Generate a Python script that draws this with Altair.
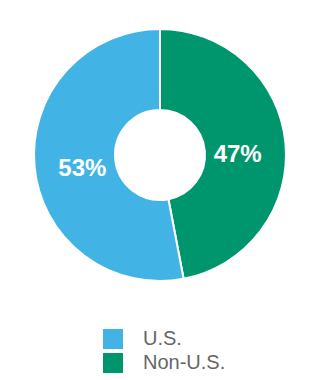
import altair as alt
import pandas as pd

categories = ["Non-U.S.", "U.S."]
values = [47, 53]
labels = ["47%", "53%"]
order = [0, 1]

df = pd.DataFrame({"cat": categories, "val": values, "lab": labels, "ord": order})

color = alt.Color(
    "cat:N",
    scale=alt.Scale(domain=["U.S.", "Non-U.S."], range=["#41b4e5", "#00966d"]),
    legend=alt.Legend(
        title=None, orient="none", legendX=103, legendY=329,
        symbolType="square", symbolSize=400, symbolStrokeWidth=0,
        labelFontSize=20, labelColor="#666666", labelFont="Liberation Sans",
        labelOffset=20, rowPadding=4,
    ),
)

base = alt.Chart(df).encode(
    theta=alt.Theta("val:Q", stack=True),
    order=alt.Order("ord:Q"),
)

arcs = base.mark_arc(innerRadius=45, outerRadius=126, stroke="white", strokeWidth=2).encode(
    color=color, x=alt.value(160), y=alt.value(155)
)

text = base.mark_text(radius=78, fontSize=24, fontWeight="bold", color="white",
                      font="Liberation Sans", dy=7).encode(
    text="lab:N", x=alt.value(160), y=alt.value(155)
)

chart = (arcs + text).properties(
    width=320, height=380, padding=0, autosize=alt.AutoSizeParams(type="none")
).configure_view(stroke=None)

chart.save("out.html", embed_options={"renderer": "svg", "actions": False})
